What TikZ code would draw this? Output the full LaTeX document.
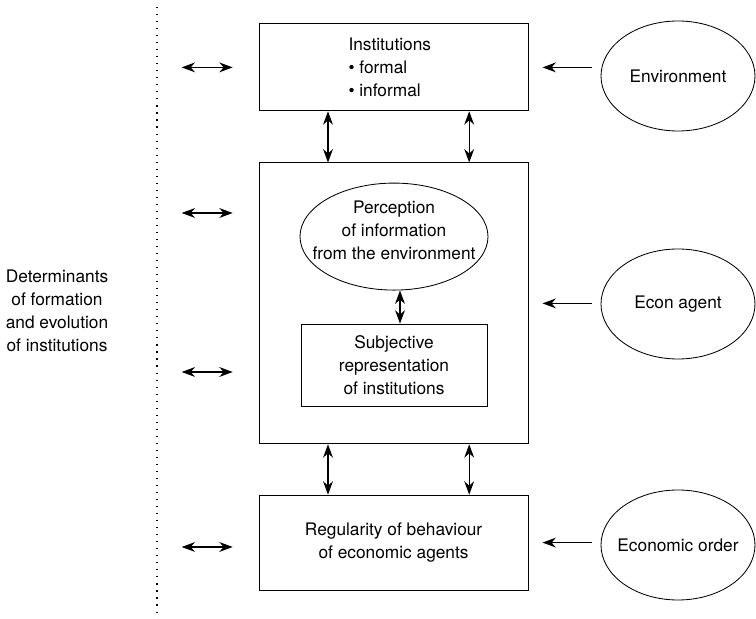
\documentclass[tikz,border=0pt]{standalone}
\usepackage{fontspec}
\setmainfont{TeX Gyre Heros}
\usetikzlibrary{arrows.meta,shapes.geometric}

\begin{document}
\begin{tikzpicture}[
    font=\fontsize{12.3}{16.3}\selectfont,
    box/.style={draw, line width=0.6pt, align=center, inner sep=0pt},
    oval/.style={draw, ellipse, line width=0.6pt, align=center, inner xsep=-0.4cm, inner ysep=0pt},
    arr/.style={-{Stealth[length=9.5pt,width=7pt]}, line width=0.8pt},
    dblarr/.style={{Stealth[length=9.5pt,width=7pt]}-{Stealth[length=9.5pt,width=7pt]}, line width=0.8pt}
]
    % Fix the page size
    \useasboundingbox (0,0) rectangle (18.9,15.475);

    % Draw the dotted separator
    \draw[line width=0.8pt, dash pattern=on 0.8pt off 4.2pt] (3.925,15.3) -- (3.925,0);

    % Label the determinants
    \node[align=center] (determ) at (1.425,7.7) {Determinants\\of formation\\and evolution\\of institutions};

    % Draw the boxes
    \node[box, align=left, minimum width=6.725cm, minimum height=2.175cm] (inst) at (9.84,13.79)
        {Institutions\\\textbullet\ formal\\\textbullet\ informal\hspace*{0.45cm}};
    \node[box, minimum width=6.725cm, minimum height=7.025cm] (agent) at (9.84,7.89) {};
    \node[oval, minimum width=4.7cm, minimum height=2.675cm] (percep) at (9.85,9.56)
        {Perception\\of information\\from the environment\\[-0.25cm]};
    \node[box, minimum width=4.65cm, minimum height=2.05cm] (subj) at (9.85,6.35)
        {Subjective\\representation\\of institutions};
    \node[box, minimum width=6.725cm, minimum height=2.375cm] (regul) at (9.84,1.91)
        {Regularity of behaviour\\of economic agents};

    % Draw the outside factors
    \node[oval, minimum width=3.85cm, minimum height=2.75cm] (env) at (16.95,13.575) {Environment};
    \node[oval, minimum width=3.85cm, minimum height=2.75cm] (econ) at (16.95,7.875) {Econ agent};
    \node[oval, minimum width=3.85cm, minimum height=2.75cm] (order) at (16.95,1.85) {Economic order};

    % Draw the arrows
    \foreach \src/\dst in {env/inst, econ/agent, order/regul}
        \draw[arr] ([xshift=-0.225cm]\src.west |- \dst.east) -- ([xshift=0.35cm]\dst.east);
    \foreach \dx in {-1.64,1.89} {
        \draw[dblarr] ([xshift=\dx cm]inst.south) -- ([xshift=\dx cm]agent.north);
        \draw[dblarr] ([xshift=\dx cm]agent.south) -- ([xshift=\dx cm]regul.north);
    }
    \draw[dblarr] ([xshift=0.15cm]percep.south) -- ([xshift=0.15cm]subj.north);
    \draw[dblarr] ([xshift=-1.925cm]inst.west) -- ([xshift=-0.65cm]inst.west);
    \foreach \dy in {2.26,-1.715}
        \draw[dblarr] ([xshift=-1.925cm,yshift=\dy cm]agent.west) -- ([xshift=-0.65cm,yshift=\dy cm]agent.west);
    \draw[dblarr] ([xshift=-1.925cm,yshift=-0.11cm]regul.west) -- ([xshift=-0.65cm,yshift=-0.11cm]regul.west);

\end{tikzpicture}
\end{document}
